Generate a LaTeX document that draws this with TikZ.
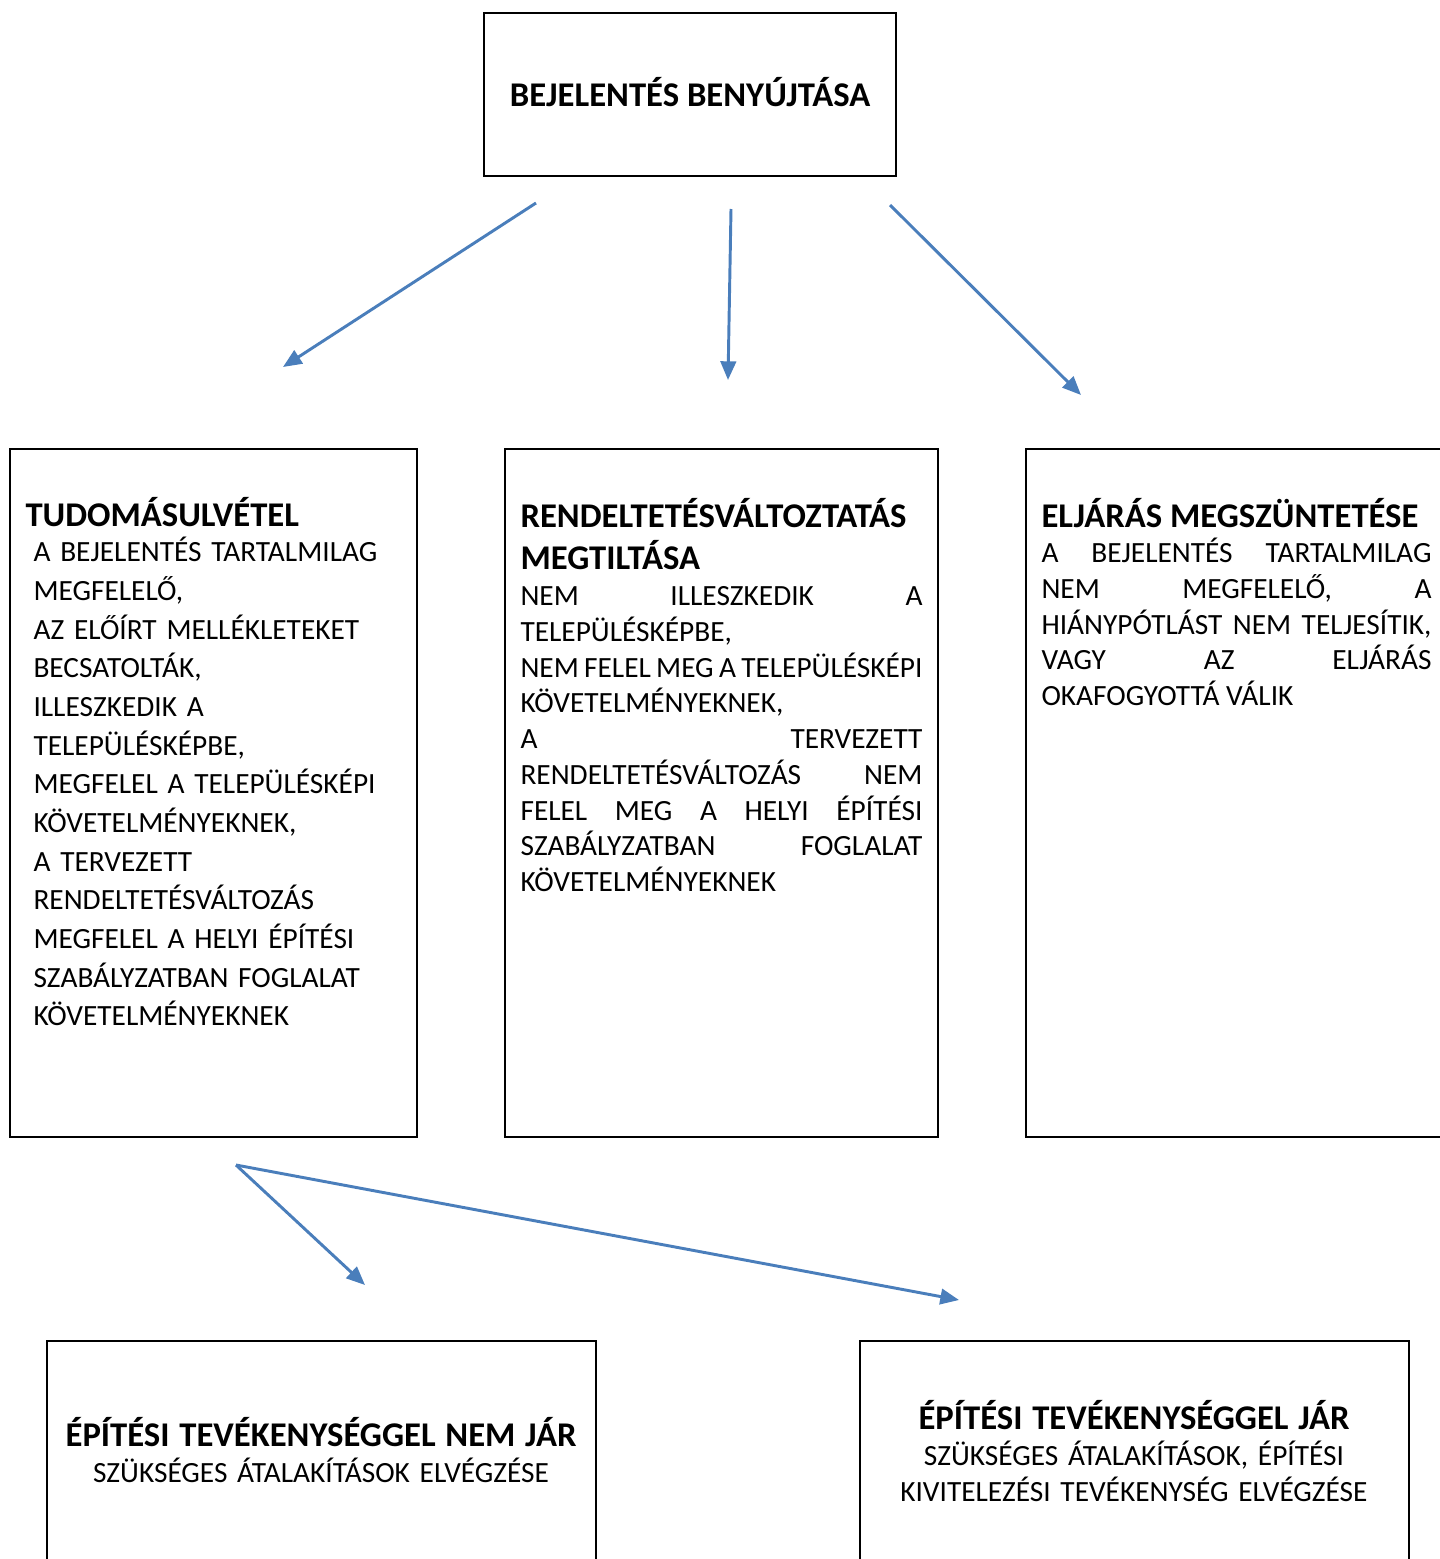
\documentclass[tikz,border=0pt]{standalone}
\usepackage{fontspec}
\setmainfont{Carlito}
\usetikzlibrary{arrows.meta}
\definecolor{arrblue}{HTML}{4A7EBB}

\begin{document}
\begin{tikzpicture}[x=0.375pt,y=-0.375pt,
	arr/.style={arrblue,line width=1.1pt,-{Triangle[length=7pt,width=5.8pt]}},
	txt/.style={inner sep=0pt,anchor=base west,font=\fontsize{11}{13.4}\selectfont},
	ctr/.style={inner sep=0pt,anchor=base,align=center,font=\fontsize{11}{13.5}\selectfont}]
\newcommand{\ttl}{\fontsize{13}{16.1}\selectfont\bfseries}
\useasboundingbox (0,0) rectangle (1440,1559);
\clip (0,0) rectangle (1440,1559);
\begin{scope}[line width=0.75pt]
\draw (484,13) rectangle (896,176);
\draw (10,449) rectangle (417,1137);
\draw (505,449) rectangle (938,1137);
\draw (1026,449) rectangle (1459,1137);
\draw (47,1341) rectangle (596,1620);
\draw (860,1341) rectangle (1409,1620);
\end{scope}
\node[ctr] (bej) at (690,107) {\ttl BEJELENTÉS BENYÚJTÁSA};
\node[txt,text width=142.5pt,align=left,font=\fontsize{11}{14.5}\selectfont] (tudo) at (25,526)
	{{\ttl TUDOMÁSULVÉTEL}\par\vspace{-1.1pt}
	\leftskip=3pt
	A BEJELENTÉS TARTALMILAG\\ MEGFELELŐ,\\ AZ ELŐÍRT MELLÉKLETEKET\\ BECSATOLTÁK,\\
	ILLESZKEDIK A\\ TELEPÜLÉSKÉPBE,\\ MEGFELEL A TELEPÜLÉSKÉPI\\ KÖVETELMÉNYEKNEK,\\
	A TERVEZETT\\ RENDELTETÉSVÁLTOZÁS\\ MEGFELEL A HELYI ÉPÍTÉSI\\
	SZABÁLYZATBAN FOGLALAT\\ KÖVETELMÉNYEKNEK\par};
\node[txt,text width=150.75pt,align=justify] (tilt) at (520,527)
	{{\ttl RENDELTETÉSVÁLTOZTATÁS\\ MEGTILTÁSA\par}
	NEM ILLESZKEDIK A\linebreak TELEPÜLÉSKÉPBE,\\
	NEM FELEL MEG A TELEPÜLÉSKÉPI\linebreak KÖVETELMÉNYEKNEK,\\
	A TERVEZETT\linebreak RENDELTETÉSVÁLTOZÁS NEM\linebreak FELEL MEG A HELYI ÉPÍTÉSI\linebreak
	SZABÁLYZATBAN FOGLALAT\linebreak KÖVETELMÉNYEKNEK\par};
\node[txt,text width=146.25pt,align=justify] (megsz) at (1041,527)
	{{\ttl ELJÁRÁS MEGSZÜNTETÉSE\par}
	A BEJELENTÉS TARTALMILAG\linebreak NEM MEGFELELŐ, A\linebreak
	HIÁNYPÓTLÁST NEM TELJESÍTIK,\linebreak VAGY AZ ELJÁRÁS\linebreak OKAFOGYOTTÁ VÁLIK\par};
\node[ctr,text width=202.5pt] (nemjar) at (321,1446)
	{{\ttl ÉPÍTÉSI TEVÉKENYSÉGGEL NEM JÁR\par}
	SZÜKSÉGES ÁTALAKÍTÁSOK ELVÉGZÉSE\par};
\node[ctr,text width=202.5pt] (jar) at (1134,1429)
	{{\ttl ÉPÍTÉSI TEVÉKENYSÉGGEL JÁR\par}
	SZÜKSÉGES ÁTALAKÍTÁSOK, ÉPÍTÉSI\\ KIVITELEZÉSI TEVÉKENYSÉG ELVÉGZÉSE\par};
\coordinate (s1) at (536,203);
\coordinate (t1) at (283,367);
\coordinate (s2) at (731,209);
\coordinate (t2) at (728,380);
\coordinate (s3) at (890,205);
\coordinate (t3) at (1081,395);
\coordinate (s4) at (236,1165);
\coordinate (t4) at (365,1285);
\coordinate (t5) at (959,1300);
\foreach \s/\t in {s1/t1,s2/t2,s3/t3,s4/t4,s4/t5}
	\draw[arr] (\s) -- (\t);
\end{tikzpicture}
\end{document}
